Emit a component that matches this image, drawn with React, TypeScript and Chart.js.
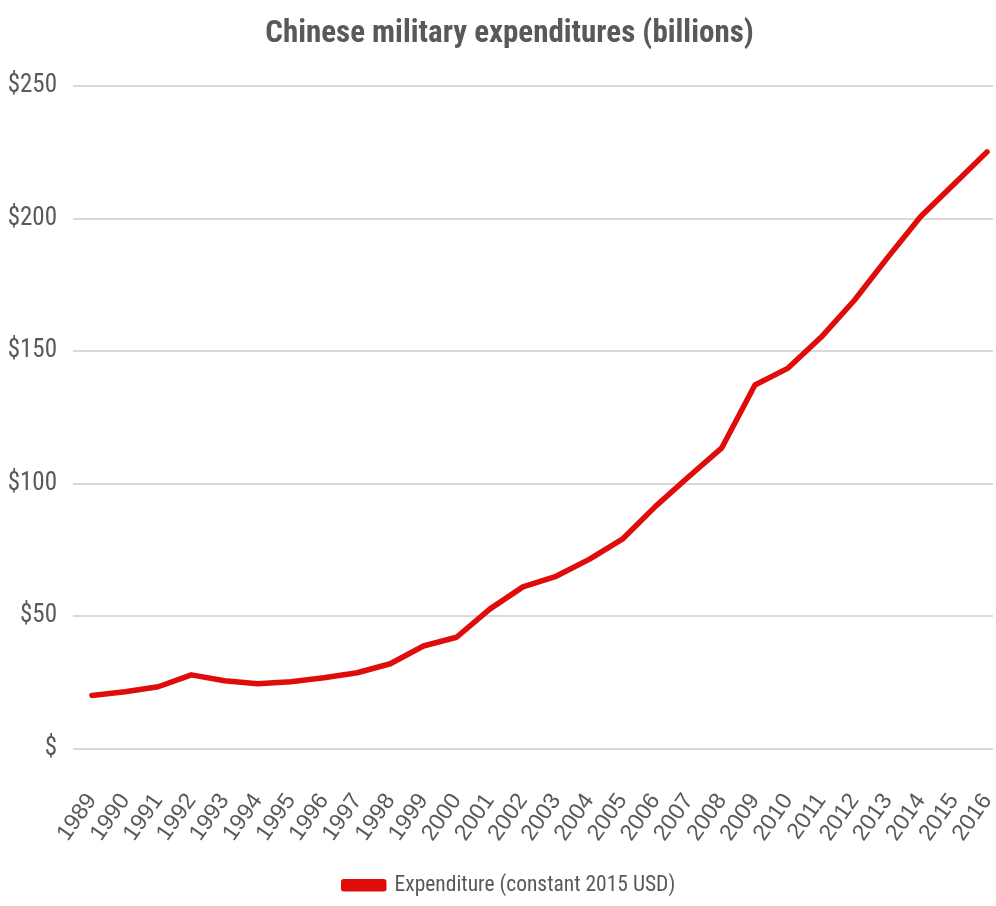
import React, { useEffect, useRef } from "react";
import { Chart, registerables } from "chart.js";

Chart.register(...registerables);

const years: number[] = [
  1989, 1990, 1991, 1992, 1993, 1994, 1995, 1996, 1997, 1998, 1999, 2000, 2001, 2002,
  2003, 2004, 2005, 2006, 2007, 2008, 2009, 2010, 2011, 2012, 2013, 2014, 2015, 2016,
];

const expenditure: number[] = [
  20.0, 21.4, 23.3, 27.8, 25.6, 24.4, 25.2, 26.7, 28.6, 32.0, 38.7, 42.0, 52.6, 61.0,
  65.0, 71.4, 79.0, 91.4, 102.6, 113.5, 137.2, 143.6, 155.3, 169.2, 185.3, 200.8, 213.0, 225.2,
];

const yTicks: number[] = [0, 50, 100, 150, 200, 250];

const TITLE = "Chinese military expenditures (billions)";
const SERIES_LABEL = "Expenditure (constant 2015 USD)";

const NARROW = "'Liberation Sans Narrow', 'Arial Narrow', 'Roboto Condensed', 'Liberation Sans', sans-serif";
const GREY = "#595959";
const RED = "#e00c0c";

// shifts the title and legend blocks so they are centred slightly right of the canvas centre
const centreShift = {
  id: "centreShift",
  afterLayout(chart: any) {
    if (chart.titleBlock) chart.titleBlock.left = 26;
    if (chart.legend) chart.legend.left = 26;
  },
};

export default function App() {
  const canvasRef = useRef<HTMLCanvasElement | null>(null);

  useEffect(() => {
    if (!canvasRef.current) return;
    const chart = new Chart(canvasRef.current, {
      type: "line",
      data: {
        datasets: [
          {
            label: SERIES_LABEL,
            data: years.map((yr, i) => ({ x: yr, y: expenditure[i] })),
            borderColor: RED,
            backgroundColor: RED,
            borderWidth: 5.5,
            pointRadius: 0,
            tension: 0,
            borderJoinStyle: "round",
            borderCapStyle: "round",
          },
        ],
      },
      plugins: [centreShift],
      options: {
        animation: false,
        responsive: true,
        maintainAspectRatio: false,
        layout: { padding: { left: 0, right: 3, top: 0, bottom: 0 } },
        plugins: {
          title: {
            display: true,
            text: TITLE,
            color: GREY,
            font: { family: NARROW, size: 31, weight: "bold" },
            padding: { top: 16, bottom: 33 },
          },
          legend: {
            display: true,
            position: "bottom",
            labels: {
              color: GREY,
              font: { family: NARROW, size: 21.5 },
              boxWidth: 40,
              boxHeight: 7,
              padding: 8,
            },
          },
          tooltip: { enabled: false },
        },
        scales: {
          x: {
            type: "linear",
            min: years[0] - 0.57,
            max: years[years.length - 1] + 0.18,
            grid: { display: false },
            border: { display: false },
            ticks: {
              stepSize: 1,
              includeBounds: false,
              autoSkip: false,
              minRotation: 55,
              maxRotation: 55,
              padding: 32,
              color: GREY,
              font: { family: "'Liberation Sans', Arial, sans-serif", size: 23 },
              callback: (v: any) => String(v),
            },
            afterFit: (s: any) => {
              s.height = 118;
              s.paddingRight = 0;
              s.paddingLeft = 0;
            },
          },
          y: {
            min: 0,
            max: 250,
            grid: { color: "#d9d9d9", lineWidth: 2, drawTicks: false },
            border: { display: false },
            afterBuildTicks: (s: any) => {
              s.ticks = yTicks.map((v) => ({ value: v }));
            },
            ticks: {
              padding: 16,
              color: GREY,
              font: { family: NARROW, size: 25 },
              callback: (v: any) => (Number(v) === 0 ? "$" : "$" + v),
            },
            afterFit: (s: any) => {
              s.width = 73;
            },
          },
        },
      },
    });
    return () => chart.destroy();
  }, []);

  return (
    <div style={{ position: "absolute", left: 0, top: 0, width: 996, height: 906, background: "#fff" }}>
      <canvas ref={canvasRef} />
    </div>
  );
}
